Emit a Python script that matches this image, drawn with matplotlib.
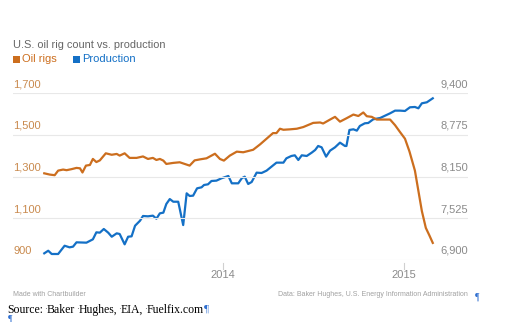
import matplotlib
matplotlib.use("Agg")
import matplotlib.pyplot as plt
import matplotlib.dates as mdates
import matplotlib.transforms as mtrans
import numpy as np

# ---- data ----
rig_dates = ["2013-01-06","2013-01-17","2013-01-27","2013-02-03","2013-02-13","2013-02-20","2013-03-02",
             "2013-03-12","2013-03-19","2013-03-24","2013-03-31","2013-04-08","2013-04-14","2013-04-21",
             "2013-04-28","2013-05-10","2013-05-22","2013-06-01","2013-06-07","2013-06-17","2013-06-27",
             "2013-07-11","2013-07-24","2013-08-03","2013-08-13","2013-08-20","2013-08-27","2013-09-03",
             "2013-09-09","2013-09-23","2013-10-06","2013-10-16","2013-10-26","2013-11-05","2013-11-16",
             "2013-11-29","2013-12-16","2013-12-26","2014-01-03","2014-01-15","2014-01-29","2014-02-11",
             "2014-03-03","2014-03-17","2014-03-30","2014-04-12","2014-04-19","2014-04-26","2014-05-03",
             "2014-05-16","2014-05-30","2014-06-12","2014-07-02","2014-07-16","2014-07-22","2014-08-05",
             "2014-08-15","2014-08-25","2014-09-07","2014-09-21","2014-10-01","2014-10-11","2014-10-18",
             "2014-10-28","2014-11-07","2014-11-20","2014-12-04","2014-12-14","2014-12-24","2015-01-03",
             "2015-01-12","2015-01-23","2015-01-30","2015-02-06","2015-02-14","2015-02-21","2015-02-28"]
rig_counts = [1316,1310,1307,1329,1334,1331,1336,
              1342,1340,1320,1353,1356,1385,1370,
              1378,1412,1405,1409,1401,1412,1390,
              1390,1397,1385,1390,1380,1385,1377,
              1361,1366,1369,1361,1353,1378,1383,
              1388,1410,1385,1377,1401,1420,1417,
              1429,1455,1482,1509,1509,1530,1525,
              1527,1530,1538,1558,1560,1555,1574,
              1587,1564,1580,1598,1591,1608,1590,
              1587,1574,1574,1574,1547,1514,1482,
              1421,1329,1232,1135,1054,1019,982]

prod_dates = ["2013-01-06","2013-01-14","2013-01-21","2013-02-03","2013-02-16","2013-02-26","2013-03-05",
              "2013-03-12","2013-04-01","2013-04-14","2013-04-21","2013-04-28","2013-05-06","2013-05-15",
              "2013-05-22","2013-06-01","2013-06-07","2013-06-17","2013-06-24","2013-07-01","2013-07-08",
              "2013-07-18","2013-07-24","2013-08-03","2013-08-13","2013-08-20","2013-08-27","2013-09-03",
              "2013-09-09","2013-09-16","2013-09-23","2013-10-03","2013-10-13","2013-10-20","2013-10-26",
              "2013-11-02","2013-11-10","2013-11-19","2013-11-24","2013-12-02","2013-12-09","2013-12-19",
              "2013-12-29","2014-01-12","2014-01-19","2014-02-01","2014-02-08","2014-02-14","2014-02-21",
              "2014-02-28","2014-03-10","2014-03-20","2014-03-30","2014-04-09","2014-04-19","2014-05-03",
              "2014-05-09","2014-05-19","2014-05-26","2014-06-02","2014-06-09","2014-06-19","2014-06-29",
              "2014-07-06","2014-07-12","2014-07-19","2014-07-28","2014-08-05","2014-08-15","2014-08-25",
              "2014-09-04","2014-09-07","2014-09-13","2014-09-21","2014-09-28","2014-10-04","2014-10-14",
              "2014-10-21","2014-10-31","2014-11-14","2014-11-24","2014-12-04","2014-12-14","2014-12-24",
              "2015-01-03","2015-01-13","2015-01-23","2015-01-30","2015-02-06","2015-02-16","2015-02-28"]
production = [7000,7039,6990,6990,7114,7090,7100,
              7165,7160,7210,7315,7310,7365,7309,
              7249,7300,7290,7135,7249,7255,7414,
              7489,7560,7555,7565,7519,7600,7610,
              7740,7814,7774,7774,7424,7900,7860,
              7865,7975,7990,8025,8035,8085,8090,
              8125,8160,8050,8050,8125,8150,8040,
              8070,8210,8205,8240,8300,8360,8360,
              8425,8460,8470,8400,8470,8460,8510,
              8550,8610,8590,8450,8540,8590,8660,
              8610,8610,8850,8860,8840,8910,8950,
              8955,9010,9030,9065,9100,9140,9140,
              9135,9190,9195,9175,9250,9265,9325]

left_ticks = [900, 1100, 1300, 1500, 1700]
right_ticks = [6900, 7525, 8150, 8775, 9400]
year_ticks = ["2014-01-01", "2015-01-01"]
year_labels = ["2014", "2015"]
source_words = ["Source:", "Baker", "Hughes,", "EIA,", "Fuelfix.com"]

ORANGE = "#cc6e1e"
BLUE = "#1470c6"
LEFT_LBL = "#c98a4e"
GRAY = "#8a8a8a"
PILCROW = "#2f6fd0"

plt.rcParams['font.family'] = ['Liberation Sans', 'DejaVu Sans']
SERIF = ["Liberation Serif", "DejaVu Serif"]

W, H = 513, 322
fig = plt.figure(figsize=(W / 100, H / 100), dpi=100)
fig.patch.set_facecolor("white")

ax = fig.add_axes([13 / W, 1 - 260 / H, 455 / W, (260 - 93.3) / H])
ax2 = ax.twinx()
for a in (ax, ax2):
    for s in a.spines.values():
        s.set_visible(False)
    a.set_facecolor("none")
    a.tick_params(left=False, right=False, bottom=False, labelleft=False,
                  labelright=False, labelbottom=False)

rd = np.array(rig_dates, dtype="datetime64[D]")
pdd = np.array(prod_dates, dtype="datetime64[D]")

ax.set_xlim(np.datetime64("2012-11-04"), np.datetime64("2015-05-10"))
ax.set_ylim(left_ticks[0], left_ticks[-1])
ax2.set_ylim(right_ticks[0], right_ticks[-1])

for v in left_ticks:
    ax.axhline(v, color="#e8e8e8", lw=0.8, zorder=0)

ax2.plot(pdd, production, color=BLUE, lw=1.6, solid_joinstyle="round", zorder=3)
ax.plot(rd, rig_counts, color=ORANGE, lw=1.6, solid_joinstyle="round", zorder=4)
ax.set_zorder(ax2.get_zorder() + 1)

tl = mtrans.blended_transform_factory(ax.transAxes, ax.transData)
for v in left_ticks:
    ax.annotate(f"{v:,}", xy=(0, v), xycoords=tl, xytext=(0, 3), textcoords="offset points",
                ha="left", va="bottom", fontsize=8, color=LEFT_LBL)
tr = mtrans.blended_transform_factory(ax2.transAxes, ax2.transData)
for v in right_ticks:
    ax2.annotate(f"{v:,}", xy=(1, v), xycoords=tr, xytext=(0, 3), textcoords="offset points",
                 ha="right", va="bottom", fontsize=8, color=GRAY)

tx = mtrans.blended_transform_factory(ax.transData, ax.transAxes)
for d, lab in zip(year_ticks, year_labels):
    dd = mdates.date2num(np.datetime64(d))
    ax.plot([dd, dd], [-0.015, -0.055], transform=tx, color="#d0d0d0", lw=0.8, clip_on=False)
    ax.text(dd, -0.06, lab, transform=tx, ha="center", va="top", fontsize=8, color=GRAY)

# header
fig.text(13 / W, 1 - 45 / H, "U.S. oil rig count vs. production", fontsize=7.9,
         color="#666666", ha="left", va="center")
fig.patches.append(matplotlib.patches.Rectangle((13 / W, 1 - 63 / H), 7 / W, 7 / H,
                   transform=fig.transFigure, facecolor=ORANGE, edgecolor="none"))
fig.text(22 / W, 1 - 59 / H, "Oil rigs", fontsize=8, color=ORANGE, ha="left", va="center")
fig.patches.append(matplotlib.patches.Rectangle((73 / W, 1 - 63 / H), 7 / W, 7 / H,
                   transform=fig.transFigure, facecolor=BLUE, edgecolor="none"))
fig.text(82 / W, 1 - 59 / H, "Production", fontsize=8, color=BLUE, ha="left", va="center")

# footer
fig.text(13 / W, 1 - 295 / H, "Made with Chartbuilder", fontsize=5, color="#a0a0a0",
         ha="left", va="center")
fig.text(468 / W, 1 - 295 / H, "Data: Baker Hughes, U.S. Energy Information Administration",
         fontsize=5, color="#a0a0a0", ha="right", va="center")
fig.text(475 / W, 1 - 297 / H, "¶", fontsize=7, color=PILCROW, ha="left", va="center",
         family=SERIF)

fig.canvas.draw()
renderer = fig.canvas.get_renderer()
x = 7
y = 1 - 310 / H
for i, w in enumerate(source_words):
    t = fig.text(x / W, y, w, fontsize=8.5, color="black", ha="left", va="center", family=SERIF)
    bb = t.get_window_extent(renderer)
    x += bb.width
    if i < len(source_words) - 1:
        fig.text((x + 0.8) / W, y + 1.2 / H, "·", fontsize=6, color="#555555", ha="left",
                 va="center", family=SERIF)
        x += 3.6
fig.text((x + 0.5) / W, y + 1 / H, "¶", fontsize=8, color=PILCROW, ha="left", va="center",
         family=SERIF)
fig.text(8 / W, 1 - 319.5 / H, "¶", fontsize=7, color=PILCROW, ha="left", va="center",
         family=SERIF)

fig.savefig("out.png", dpi=100, facecolor="white")
